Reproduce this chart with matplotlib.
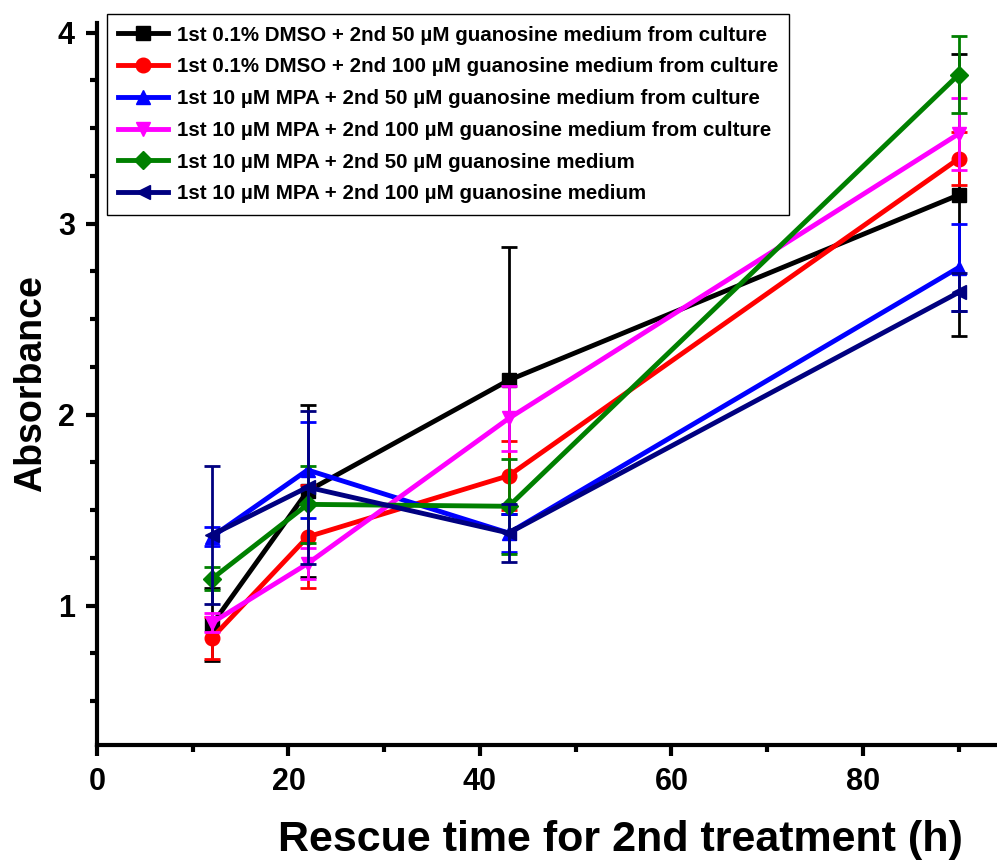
import numpy as np
import matplotlib.pyplot as plt
from matplotlib.ticker import MultipleLocator

# Rescue time (h)
hours = [12, 22, 43, 90]

labels = [
    "1st 0.1% DMSO + 2nd 50 \u00b5M guanosine medium from culture",
    "1st 0.1% DMSO + 2nd 100 \u00b5M guanosine medium from culture",
    "1st 10 \u00b5M MPA + 2nd 50 \u00b5M guanosine medium from culture",
    "1st 10 \u00b5M MPA + 2nd 100 \u00b5M guanosine medium from culture",
    "1st 10 \u00b5M MPA + 2nd 50 \u00b5M guanosine medium",
    "1st 10 \u00b5M MPA + 2nd 100 \u00b5M guanosine medium",
]

dmso_50 = [0.90, 1.60, 2.18, 3.15]
dmso_50_err = [0.19, 0.45, 0.70, 0.74]
dmso_100 = [0.83, 1.36, 1.68, 3.34]
dmso_100_err = [0.11, 0.27, 0.18, 0.14]
mpa_50_cult = [1.36, 1.71, 1.38, 2.77]
mpa_50_cult_err = [0.05, 0.25, 0.10, 0.23]
mpa_100_cult = [0.91, 1.22, 1.98, 3.47]
mpa_100_cult_err = [0.05, 0.08, 0.17, 0.19]
mpa_50 = [1.14, 1.53, 1.52, 3.78]
mpa_50_err = [0.06, 0.20, 0.25, 0.20]
mpa_100 = [1.37, 1.62, 1.38, 2.64]
mpa_100_err = [0.36, 0.40, 0.15, 0.10]

series = [dmso_50, dmso_100, mpa_50_cult, mpa_100_cult, mpa_50, mpa_100]
errors = [dmso_50_err, dmso_100_err, mpa_50_cult_err, mpa_100_cult_err,
          mpa_50_err, mpa_100_err]
colors = ["black", "red", "blue", "magenta", "green", "navy"]
markers = ["s", "o", "^", "v", "D", "<"]

arial = ["Liberation Sans", "DejaVu Sans"]
plt.rcParams["font.family"] = arial
plt.rcParams["font.weight"] = "bold"

fig = plt.figure(figsize=(9.97, 8.63), dpi=100)
ax = fig.add_axes([0.0973, 0.1367, 0.9027, 0.8366])

for y, e, c, m, lbl in zip(series, errors, colors, markers, labels):
    ms = 9.5 if m == "D" else 10.5
    ax.errorbar(hours, y, yerr=e, fmt="none", ecolor=c, elinewidth=2,
                capsize=5.5, capthick=2)
    ax.plot(hours, y, color=c, marker=m, markersize=ms, linewidth=3.5,
            label=lbl)

ax.set_xlim(0, 94)
ax.set_ylim(0.27, 4.05)
ax.xaxis.set_major_locator(MultipleLocator(20))
ax.xaxis.set_minor_locator(MultipleLocator(10))
ax.yaxis.set_major_locator(MultipleLocator(1))
ax.yaxis.set_minor_locator(MultipleLocator(0.25))

for s in ["top", "right"]:
    ax.spines[s].set_visible(False)
for s in ["left", "bottom"]:
    ax.spines[s].set_linewidth(3)

ax.tick_params(which="major", direction="out", length=8, width=3,
               labelsize=22, pad=8)
ax.tick_params(which="minor", direction="out", length=5, width=3)

ax.set_xlabel("Rescue time for 2nd treatment (h)", fontweight="bold",
              fontsize=31)
ax.xaxis.set_label_coords(0.582, -0.104)
ax.set_ylabel("Absorbance", fontweight="bold", fontsize=27, labelpad=6)

leg = ax.legend(loc="upper left", bbox_to_anchor=(0.011, 1.012),
                prop={"weight": "bold", "size": 14.8},
                handlelength=2.4, handletextpad=0.45, labelspacing=0.62,
                borderpad=0.55, borderaxespad=0, fancybox=False,
                edgecolor="black", framealpha=1)
leg.get_frame().set_linewidth(1)

fig.savefig("out.png", dpi=100)
